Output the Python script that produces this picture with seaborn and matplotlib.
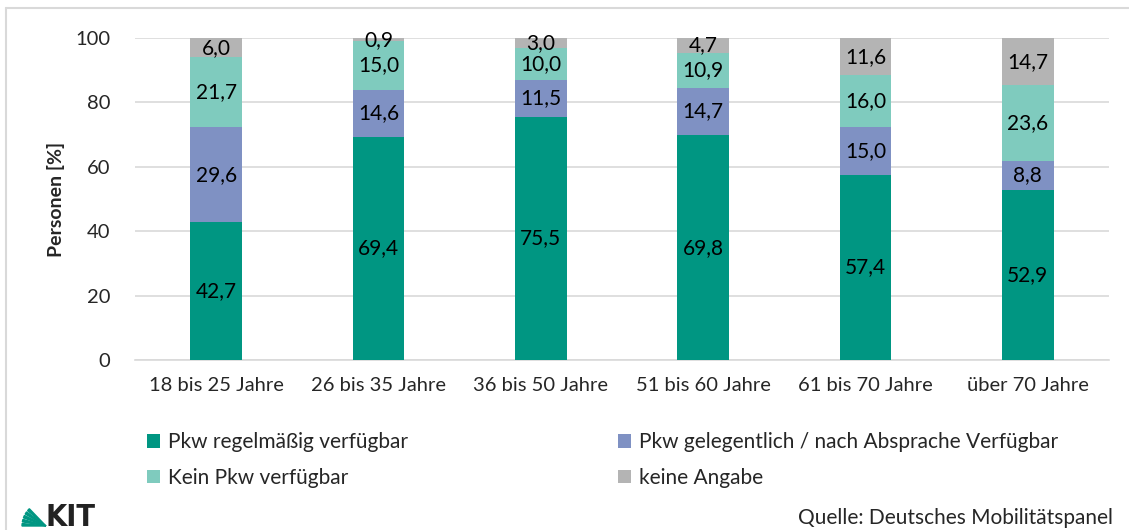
import numpy as np
import pandas as pd
import matplotlib.pyplot as plt
import seaborn as sns
from matplotlib.lines import Line2D
from matplotlib.patches import Polygon

altersgruppen = ['18 bis 25 Jahre', '26 bis 35 Jahre', '36 bis 50 Jahre',
                 '51 bis 60 Jahre', '61 bis 70 Jahre', 'über 70 Jahre']
regelmaessig = [42.7, 69.4, 75.5, 69.8, 57.4, 52.9]
gelegentlich = [29.6, 14.6, 11.5, 14.7, 15.0, 8.8]
kein_pkw = [21.7, 15.0, 10.0, 10.9, 16.0, 23.6]
keine_angabe = [6.0, 0.9, 3.0, 4.7, 11.6, 14.7]

serien = ['Pkw regelmäßig verfügbar', 'Pkw gelegentlich / nach Absprache Verfügbar',
          'Kein Pkw verfügbar', 'keine Angabe']
farben = ['#009682', '#7F91C3', '#7FCBBE', '#B4B4B4']

sns.set_theme(style='white')
plt.rcParams['font.family'] = ['Lato', 'DejaVu Sans']

fig = plt.figure(figsize=(11.29, 5.3), dpi=100)
ax = fig.add_axes([0.1196, 0.3208, 0.8627, 0.6075])

df = pd.DataFrame({'gruppe': altersgruppen})
unten = np.zeros(len(altersgruppen))
for name, werte, farbe in zip(serien, [regelmaessig, gelegentlich, kein_pkw, keine_angabe], farben):
    df['wert'] = werte
    sns.barplot(data=df, x='gruppe', y='wert', bottom=unten, color=farbe, width=0.32,
                saturation=1, label=name, ax=ax, edgecolor='none', linewidth=0, zorder=3)
    for i, v in enumerate(werte):
        ax.text(i, unten[i] + v / 2, f'{v:.1f}'.replace('.', ','), ha='center', va='center',
                fontsize=15, color='black', zorder=4)
    unten = unten + np.array(werte)

ax.set_ylim(0, 100)
ax.set_xlim(-0.5, 5.5)
ax.set_yticks([0, 20, 40, 60, 80, 100])
ax.yaxis.grid(True, color='#D9D9D9', linewidth=1.2, zorder=0)
ax.set_xlabel('')
ax.set_ylabel('Personen [%]', fontsize=14, fontweight='bold')
ax.yaxis.set_label_coords(-0.072, 0.5)
ax.tick_params(axis='both', labelsize=14.5, length=0)
ax.tick_params(axis='x', pad=12)
ax.tick_params(axis='y', pad=18)
for s in ['top', 'right', 'left']:
    ax.spines[s].set_visible(False)
ax.spines['bottom'].set_color('#D9D9D9')
ax.spines['bottom'].set_linewidth(1.2)

h, l = ax.get_legend_handles_labels()
reihenfolge = [0, 2, 1, 3]
ax.legend([h[i] for i in reihenfolge], [l[i] for i in reihenfolge],
          loc='upper left', bbox_to_anchor=(0.0123, -0.225), ncol=2, frameon=False,
          fontsize=15, handlelength=0.6, handleheight=0.6, handletextpad=0.4,
          columnspacing=10.1, labelspacing=0.75, borderaxespad=0, borderpad=0)

# Rahmen
fig.add_artist(Line2D([6 / 1129, 1], [1 - 8 / 530, 1 - 8 / 530], color='#D9D9D9', linewidth=1.5))
fig.add_artist(Line2D([6 / 1129, 6 / 1129], [0, 1 - 8 / 530], color='#D9D9D9', linewidth=1.5))

# KIT-Logo (vereinfacht)
cx, cy = 46 / 1129, 1 - 526 / 530
r = 24
for k in range(5):
    a0 = np.deg2rad(180 - k * 10)
    a1 = np.deg2rad(180 - k * 10 - 6)
    pts = [(cx, cy),
           (cx + r * np.cos(a0) / 1129, cy + r * np.sin(a0) / 530),
           (cx + r * np.cos(a1) / 1129, cy + r * np.sin(a1) / 530)]
    fig.add_artist(Polygon(pts, closed=True, color='#009682', transform=fig.transFigure))
fig.text(46 / 1129, 1 - 526 / 530, 'KIT', fontsize=22, fontweight='bold', color='#222222',
         family='DejaVu Sans', fontstretch='condensed', ha='left', va='baseline')

fig.text(1113 / 1129, 1 - 518 / 530, 'Quelle: Deutsches Mobilitätspanel', fontsize=15,
         ha='right', va='center')

fig.savefig('out.png', dpi=100)
